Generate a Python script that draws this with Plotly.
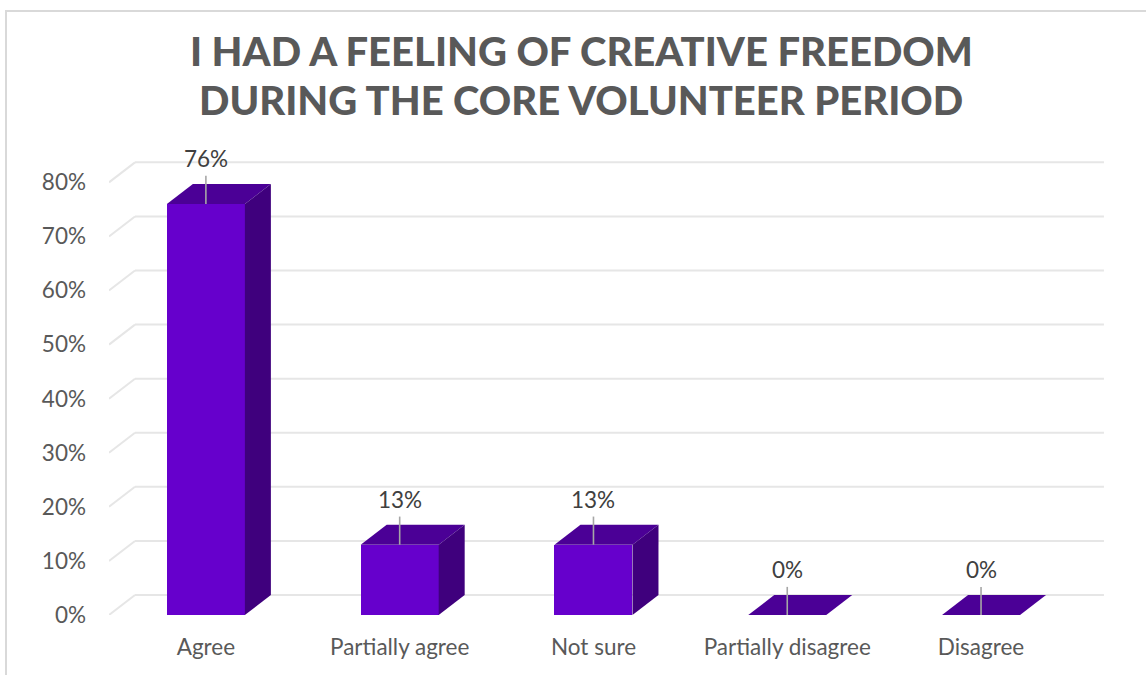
import plotly.graph_objects as go

# Survey answers and shares (percent)
categories = ["Agree", "Partially agree", "Not sure", "Partially disagree", "Disagree"]
values = [76, 13, 13, 0, 0]
tick_values = [0, 10, 20, 30, 40, 50, 60, 70, 80]
tick_labels = ["0%", "10%", "20%", "30%", "40%", "50%", "60%", "70%", "80%"]

# Figure geometry (pixels)
W, H = 1146, 675
PL, PR, PT, PB = 109, 1107, 158, 615
X_MIN, X_MAX = -0.5, 4.65
Y_MIN, Y_MAX = 0, 84.5

px_per_x = (PR - PL) / (X_MAX - X_MIN)
px_per_y = (PB - PT) / (Y_MAX - Y_MIN)

# 3-D depth offset, expressed in data units
DX = 26 / px_per_x
DY = 20 / px_per_y
BAR_W = 78 / px_per_x

FRONT = "#6600cc"
TOP = "#4b0096"
SIDE = "#3f007d"
GRID = "#e6e6e6"
TEXT = "#595959"
FONT = "Lato"
LABEL_SIZE = 22.5


def paper_x(p):
    return (p - PL) / (PR - PL)


def paper_y(p):
    return (PB - p) / (PB - PT)


idx = list(range(len(categories)))

fig = go.Figure()

# Front faces
fig.add_trace(go.Bar(
    x=idx, y=values, width=BAR_W,
    marker=dict(color=FRONT, line=dict(width=0)),
    hoverinfo="skip", showlegend=False,
))

# Top and side faces of each block
for i, v in zip(idx, values):
    xl, xr = i - BAR_W / 2, i + BAR_W / 2
    fig.add_trace(go.Scatter(
        x=[xl, xr, xr + DX, xl + DX, xl],
        y=[v, v, v + DY, v + DY, v],
        mode="lines", fill="toself", fillcolor=TOP,
        line=dict(width=0, color=TOP), hoverinfo="skip", showlegend=False,
    ))
    if v > 0:
        fig.add_trace(go.Scatter(
            x=[xr, xr, xr + DX, xr + DX, xr],
            y=[0, v, v + DY, DY, 0],
            mode="lines", fill="toself", fillcolor=SIDE,
            line=dict(width=0, color=SIDE), hoverinfo="skip", showlegend=False,
        ))

# Leader lines from each block to its label
for i, v in zip(idx, values):
    fig.add_trace(go.Scatter(
        x=[i, i], y=[v, v + 5.2], mode="lines",
        line=dict(color="#a6a6a6", width=1.6),
        hoverinfo="skip", showlegend=False,
    ))

# Value labels
annotations = []
for i, v in zip(idx, values):
    annotations.append(dict(
        x=i, y=v + 8.4, xref="x", yref="y", text=f"{v}%",
        showarrow=False, font=dict(family=FONT, size=LABEL_SIZE, color="#404040"),
        xanchor="center", yanchor="middle",
    ))

# Two-line title, placed against the full canvas
title_lines = ["I HAD A FEELING OF CREATIVE FREEDOM", "DURING THE CORE VOLUNTEER PERIOD"]
for line, yc in zip(title_lines, [51.5, 100.5]):
    annotations.append(dict(
        x=paper_x(581), y=paper_y(yc), xref="paper", yref="paper", text=line,
        showarrow=False, font=dict(family=FONT, size=40, color=TEXT, weight=900),
        xanchor="center", yanchor="middle",
    ))

# Back-wall gridlines with their slanted side edges
shapes = []
for v in tick_values:
    shapes.append(dict(
        type="line", xref="x", yref="y", layer="below",
        x0=X_MIN + DX, x1=len(categories) - 0.5 + DX, y0=v + DY, y1=v + DY,
        line=dict(color=GRID, width=2),
    ))
    shapes.append(dict(
        type="line", xref="x", yref="y", layer="below",
        x0=X_MIN, x1=X_MIN + DX, y0=v, y1=v + DY,
        line=dict(color=GRID, width=2),
    ))

# Chart-area frame
shapes.append(dict(
    type="rect", xref="paper", yref="paper",
    x0=paper_x(6), x1=paper_x(W + 20), y0=paper_y(H + 20), y1=paper_y(11),
    line=dict(color="#d9d9d9", width=2), fillcolor="rgba(0,0,0,0)",
))

fig.update_layout(
    width=W, height=H,
    margin=dict(l=PL, r=W - PR, t=PT, b=H - PB, pad=0),
    paper_bgcolor="white", plot_bgcolor="white",
    showlegend=False,
    bargap=0,
    annotations=annotations,
    shapes=shapes,
    xaxis=dict(
        range=[X_MIN, X_MAX], tickmode="array", tickvals=idx, ticktext=categories,
        showgrid=False, zeroline=False, showline=False, ticks="",
        tickfont=dict(family=FONT, size=LABEL_SIZE, color=TEXT),
        ticklabelstandoff=16, fixedrange=True,
    ),
    yaxis=dict(
        range=[Y_MIN, Y_MAX], tickmode="array", tickvals=tick_values, ticktext=tick_labels,
        showgrid=False, zeroline=False, showline=False, ticks="",
        tickfont=dict(family=FONT, size=LABEL_SIZE, color=TEXT),
        ticklabelstandoff=22, fixedrange=True,
    ),
)

fig.write_html("out.html")
